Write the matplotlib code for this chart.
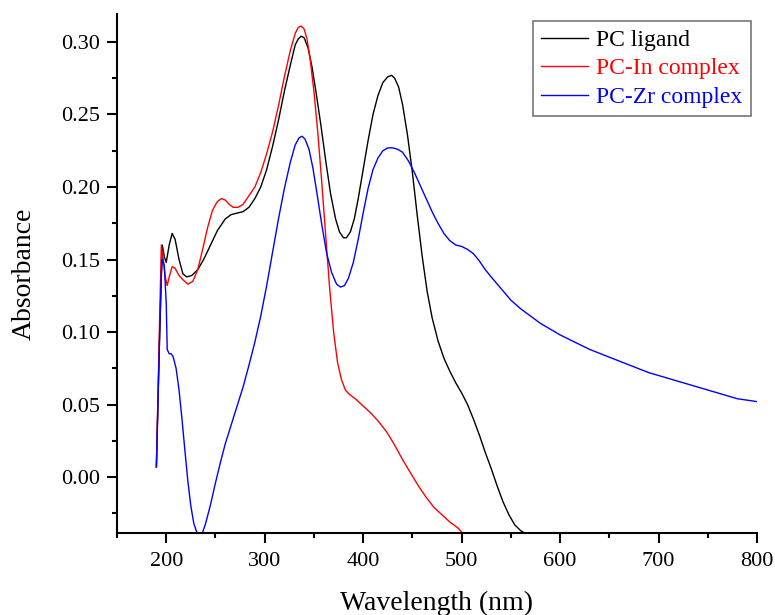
import matplotlib
matplotlib.use("Agg")
import matplotlib.pyplot as plt
from matplotlib.ticker import MultipleLocator, FormatStrFormatter

plt.rcParams['font.family'] = ['Liberation Serif', 'DejaVu Serif']

# PC ligand
lig_x = [190, 193, 196, 198, 200, 203, 206, 209, 213, 217, 221, 226, 232, 238, 245, 252, 260, 266, 272, 278, 284, 290,
         296, 302, 308, 314, 320, 326, 331, 334, 337, 340, 344, 348, 352, 357, 362, 367, 372, 376, 380, 383, 387, 391,
         395, 400, 405, 410, 415, 420, 425, 429, 432, 436, 440, 445, 450, 455, 460, 465, 470, 476, 482, 488, 494, 500,
         506, 512, 518, 524, 530, 536, 542, 548, 554, 560, 565, 570]
lig_y = [0.007, 0.09, 0.160, 0.152, 0.148, 0.160, 0.168, 0.164, 0.150, 0.140, 0.138, 0.139, 0.143, 0.150, 0.160, 0.170,
         0.178, 0.181, 0.182, 0.183, 0.186, 0.192, 0.200, 0.212, 0.228, 0.246, 0.266, 0.284, 0.298, 0.302, 0.304, 0.303,
         0.296, 0.283, 0.266, 0.243, 0.218, 0.195, 0.178, 0.169, 0.165, 0.165, 0.169, 0.178, 0.192, 0.212, 0.232, 0.250,
         0.263, 0.272, 0.276, 0.277, 0.275, 0.269, 0.257, 0.236, 0.210, 0.180, 0.152, 0.128, 0.110, 0.094, 0.082, 0.073,
         0.065, 0.058, 0.050, 0.040, 0.029, 0.017, 0.006, -0.006, -0.017, -0.026, -0.033, -0.037, -0.039, -0.041]

# PC-In complex
in_x = [190, 193, 195, 197, 199, 201, 203, 206, 209, 213, 217, 222, 227, 232, 237, 242, 247, 252, 256, 260, 264, 268,
        273, 278, 283, 290, 296, 302, 308, 314, 320, 326, 331, 334, 337, 340, 343, 346, 350, 354, 358, 362, 366, 370,
        374, 378, 382, 386, 392, 400, 408, 416, 424, 432, 440, 448, 456, 464, 472, 480, 488, 496, 503]
in_y = [0.007, 0.10, 0.160, 0.150, 0.138, 0.132, 0.138, 0.145, 0.144, 0.139, 0.136, 0.133, 0.135, 0.143, 0.157, 0.172,
        0.184, 0.190, 0.192, 0.191, 0.188, 0.186, 0.186, 0.188, 0.193, 0.200, 0.210, 0.223, 0.238, 0.256, 0.276, 0.294,
        0.306, 0.310, 0.311, 0.309, 0.302, 0.289, 0.266, 0.237, 0.203, 0.166, 0.130, 0.100, 0.079, 0.067, 0.060, 0.057,
        0.054, 0.049, 0.044, 0.038, 0.031, 0.022, 0.012, 0.003, -0.006, -0.014, -0.021, -0.026, -0.031, -0.035, -0.040]

# PC-Zr complex
zr_x = [190, 193, 195, 196, 198, 200, 201, 203, 205, 207, 210, 213, 216, 219, 222, 225, 228, 231, 234, 237, 240, 245,
        250, 255, 260, 266, 272, 278, 284, 290, 296, 302, 308, 314, 320, 326, 331, 335, 338, 341, 345, 349, 353, 358,
        363, 368, 373, 377, 381, 385, 390, 395, 400, 405, 410, 415, 420, 425, 430, 435, 440, 446, 452, 458, 464, 470,
        476, 482, 488, 494, 500, 506, 512, 518, 524, 530, 540, 550, 560, 570, 580, 590, 600, 615, 630, 645, 660, 675,
        690, 705, 720, 735, 750, 765, 780, 790, 800]
zr_y = [0.007, 0.09, 0.140, 0.150, 0.146, 0.120, 0.088, 0.085, 0.085, 0.083, 0.075, 0.060, 0.040, 0.018, -0.003,
        -0.020, -0.032, -0.038, -0.040, -0.038, -0.032, -0.019, -0.004, 0.010, 0.023, 0.036, 0.049, 0.062, 0.077, 0.093,
        0.111, 0.132, 0.155, 0.178, 0.199, 0.217, 0.229, 0.234, 0.235, 0.233, 0.226, 0.213, 0.196, 0.174, 0.154, 0.141,
        0.133, 0.131, 0.132, 0.137, 0.148, 0.164, 0.182, 0.199, 0.212, 0.220, 0.225, 0.227, 0.227, 0.226, 0.224, 0.218,
        0.210, 0.201, 0.192, 0.183, 0.175, 0.168, 0.163, 0.160, 0.159, 0.157, 0.154, 0.149, 0.143, 0.138, 0.130, 0.122,
        0.116, 0.111, 0.106, 0.102, 0.098, 0.093, 0.088, 0.084, 0.080, 0.076, 0.072, 0.069, 0.066, 0.063, 0.060, 0.057,
        0.054, 0.053, 0.052]

fig = plt.figure(figsize=(7.75, 6.15), dpi=100)
ax = fig.add_axes([117 / 775, 82 / 615, 640 / 775, 519 / 615])

ax.plot(lig_x, lig_y, color='black', lw=1.0, label='PC ligand')
ax.plot(in_x, in_y, color='red', lw=1.0, label='PC-In complex')
ax.plot(zr_x, zr_y, color='blue', lw=1.0, label='PC-Zr complex')

ax.set_xlim(150, 800)
ax.set_ylim(-0.0386, 0.3193)
ax.xaxis.set_major_locator(MultipleLocator(100))
ax.xaxis.set_minor_locator(MultipleLocator(50))
ax.yaxis.set_major_locator(MultipleLocator(0.05))
ax.yaxis.set_minor_locator(MultipleLocator(0.025))
ax.yaxis.set_major_formatter(FormatStrFormatter('%.2f'))
for s in ['top', 'right']:
    ax.spines[s].set_visible(False)
for s in ['left', 'bottom']:
    ax.spines[s].set_linewidth(1.5)
ax.tick_params(which='major', direction='out', length=7, width=1.5, labelsize=16)
ax.tick_params(which='minor', direction='out', length=3.6, width=1.5)
ax.tick_params(axis='x', which='major', pad=7)
ax.tick_params(axis='y', which='major', pad=5)

ax.set_xlabel('Wavelength (nm)', fontsize=20, labelpad=14)
ax.set_ylabel('Absorbance', fontsize=20, labelpad=18)

leg = ax.legend(loc='upper right', fontsize=17, frameon=True, fancybox=False, handlelength=2.0,
                handletextpad=0.35, borderpad=0.35, labelspacing=0.3, borderaxespad=0.0,
                bbox_to_anchor=((751 - 117) / 640, (533 - 21) / 519))
leg.get_frame().set_edgecolor('#555555')
leg.get_frame().set_linewidth(1.2)
for t, c in zip(leg.get_texts(), ['black', 'red', 'blue']):
    t.set_color(c)

fig.savefig('out.png', dpi=100)
